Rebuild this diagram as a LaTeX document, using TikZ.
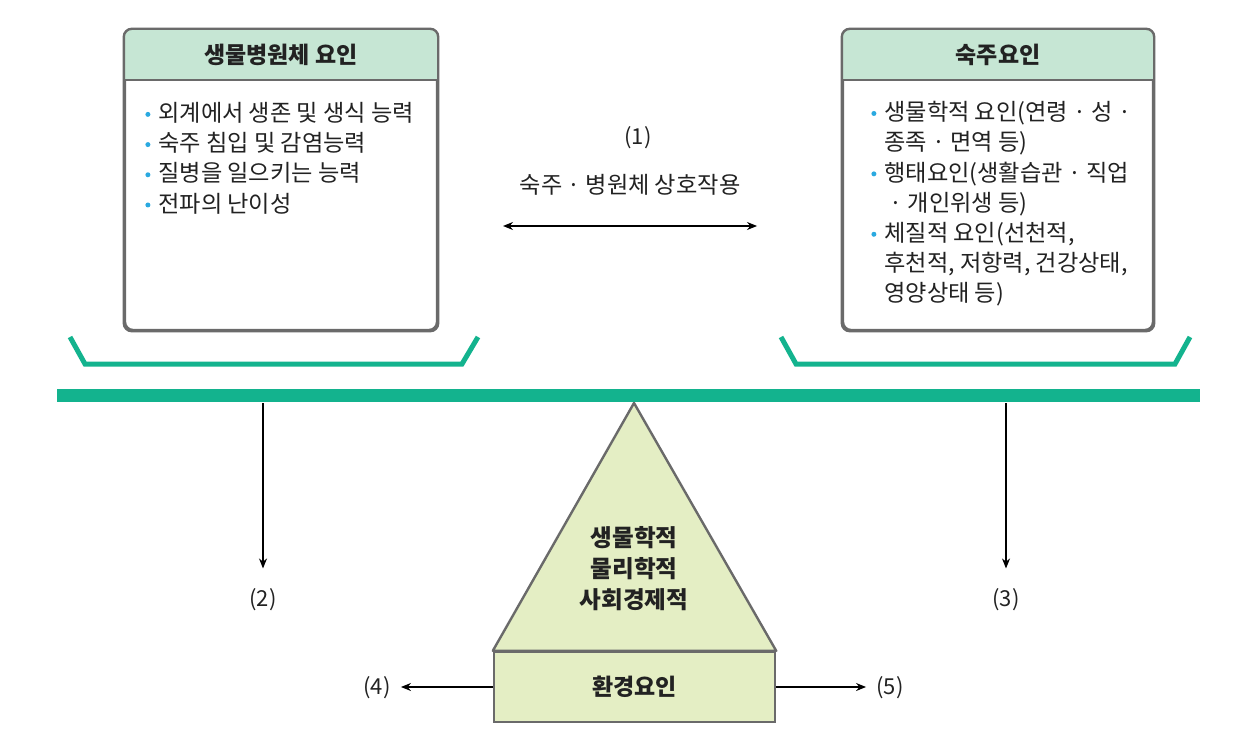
\documentclass[tikz,border=0pt]{standalone}
\usepackage{fontspec}
\setmainfont{Noto Sans CJK KR}
\usetikzlibrary{arrows.meta}
\definecolor{hdrfill}{HTML}{C6E6D4}
\definecolor{edgegray}{HTML}{6A6A6A}
\definecolor{beamgreen}{HTML}{13B38E}
\definecolor{envfill}{HTML}{E4EEC4}
\definecolor{bulcyan}{HTML}{2AA9E0}
\definecolor{inkc}{HTML}{222222}
\newcommand{\bul}{\makebox[6.5pt][l]{\tikz[baseline=0pt]\fill[bulcyan] (1.4pt,3.6pt) circle (1.25pt);}}
\newcommand{\nobul}{\hspace{6.5pt}}

\begin{document}
\begin{tikzpicture}[x=0.5pt,y=-0.5pt,
        panel/.style={draw=edgegray,line width=1.2pt,rounded corners=4pt,fill=white,
                      minimum height=150pt,inner sep=0pt},
        title/.style={font=\fontsize{11.5}{13}\selectfont\bfseries,text=inkc},
        body/.style={font=\fontsize{11.6}{15.1}\selectfont,text=inkc,align=left,anchor=north west,inner sep=0pt},
        lab/.style={font=\fontsize{11}{13}\selectfont,text=inkc,inner sep=0pt},
        arr/.style={-{Stealth[length=5pt,width=4pt]},line width=0.6pt},
        tray/.style={draw=beamgreen,line width=2.5pt}]
        \useasboundingbox (0,0) rectangle (1257,743);

        % the two panels on the beam
        \node[panel,minimum width=156pt] (pathbox) at (281,180) {};
        \node[panel,minimum width=155pt] (hostbox) at (998,180) {};
        \foreach \b in {pathbox,hostbox}{
                \begin{scope}
                        \clip[rounded corners=4pt] (\b.south west) rectangle (\b.north east);
                        \fill[hdrfill] (\b.north west) rectangle ([yshift=-25.5pt]\b.north east);
                \end{scope}
                \draw[edgegray,line width=1.2pt,rounded corners=4pt] (\b.south west) rectangle (\b.north east);
                \draw[edgegray,line width=1.2pt] ([yshift=-25.5pt]\b.north west) -- ([yshift=-25.5pt]\b.north east);
        }
        \node[title] (pathtitle) at (281,55) {생물병원체 요인};
        \node[title] (hosttitle) at (998,55) {숙주요인};

        \node[body] (pathtext) at (145,102) {\bul 외계에서 생존 및 생식 능력\\
                \bul 숙주 침입 및 감염능력\\
                \bul 질병을 일으키는 능력\\
                \bul 전파의 난이성};
        \node[body] (hosttext) at (871,101) {\bul 생물학적 요인(연령 · 성 ·\\
                \nobul 종족 · 면역 등)\\
                \bul 행태요인(생활습관 · 직업\\
                \nobul\ · 개인위생 등)\\
                \bul 체질적 요인(선천적,\\
                \nobul 후천적, 저항력, 건강상태,\\
                \nobul 영양상태 등)};

        % interaction
        \node[lab] (lab1) at (638,138) {(1)};
        \node[lab,font=\fontsize{11.6}{13}\selectfont] (interact) at (630,185) {숙주 · 병원체 상호작용};
        \coordinate (intL) at (503,226);
        \coordinate (intR) at (757,226);
        \draw[{Stealth[length=5pt,width=4pt]}-{Stealth[length=5pt,width=4pt]},line width=0.6pt] (intL) -- (intR);

        % trays and beam
        \draw[tray] (70,337) -- (85,364) -- (462,364) -- (478,337);
        \draw[tray] (781,337) -- (796,364) -- (1175,364) -- (1190,337);
        \fill[beamgreen] (57,389) rectangle (1200,402);

        % fulcrum
        \coordinate (apex) at (634,403);
        \node[draw=edgegray,line width=1.2pt,fill=envfill,minimum width=140.5pt,minimum height=35pt,
              title] (envbox) at (634.5,687) {환경요인};
        \filldraw[draw=edgegray,fill=envfill,line width=1.2pt,line join=round]
                (envbox.north west) -- (apex) -- (envbox.north east) -- cycle;
        \node[title,align=center,font=\fontsize{11.8}{15.5}\selectfont\bfseries] (envkinds) at (634,569)
                {생물학적\\물리학적\\사회경제적};

        % effects
        \coordinate (beamL) at (263,403);
        \coordinate (beamR) at (1006,403);
        \node[lab] (lab2) at (263,600) {(2)};
        \node[lab] (lab3) at (1006,600) {(3)};
        \node[lab] (lab4) at (377,688) {(4)};
        \node[lab] (lab5) at (890,688) {(5)};
        \draw[arr,shorten >=10pt] (beamL) -- (lab2.north);
        \draw[arr,shorten >=10pt] (beamR) -- (lab3.north);
        \draw[arr,shorten >=5pt] (envbox.west) -- (envbox.west -| lab4.east);
        \draw[arr,shorten >=5pt] (envbox.east) -- (envbox.east -| lab5.west);
\end{tikzpicture}
\end{document}
